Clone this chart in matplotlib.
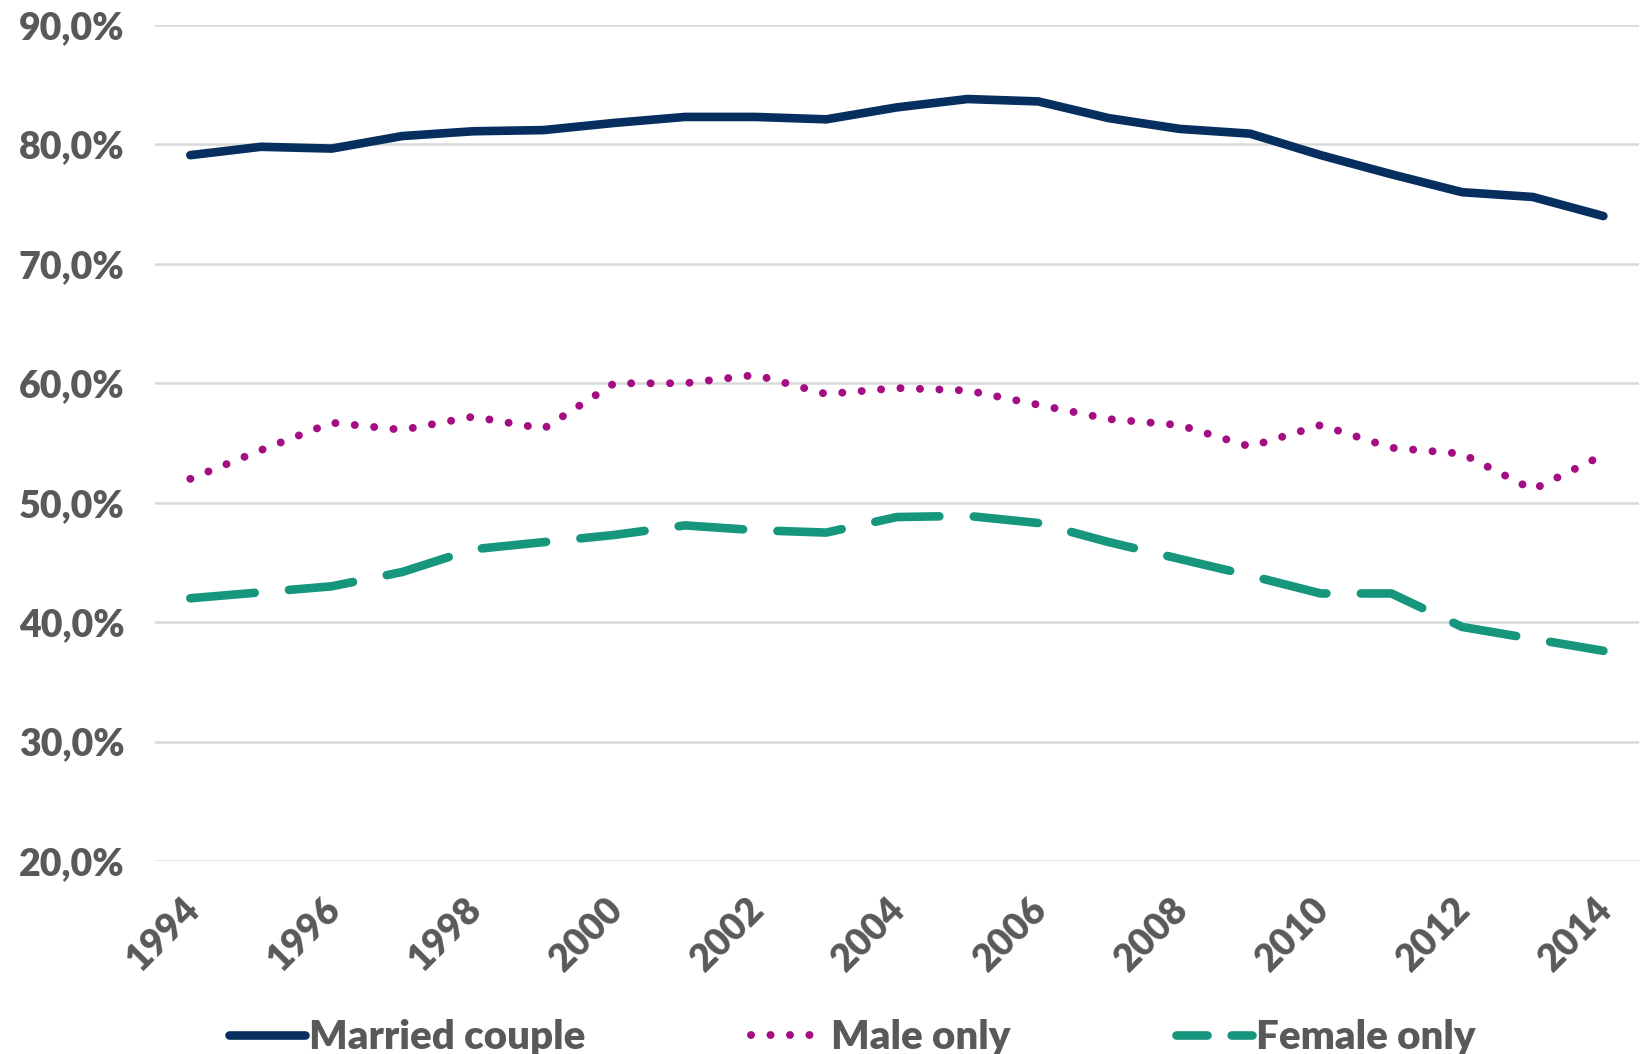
import matplotlib
matplotlib.use("Agg")
import matplotlib.pyplot as plt
import matplotlib.transforms as mtransforms
from matplotlib.ticker import FuncFormatter

years = list(range(1994, 2015))

married = [79.1, 79.8, 79.65, 80.7, 81.1, 81.2, 81.8, 82.3, 82.3, 82.1, 83.1,
           83.8, 83.6, 82.2, 81.3, 80.9, 79.1, 77.5, 76.0, 75.6, 74.0]
male = [52.0, 54.4, 56.7, 56.1, 57.2, 56.2, 60.0, 60.0, 60.7, 59.1, 59.6,
        59.4, 58.2, 57.0, 56.5, 54.7, 56.5, 54.6, 54.1, 51.1, 54.0]
female = [42.0, 42.5, 43.0, 44.2, 46.1, 46.7, 47.3, 48.1, 47.7, 47.5, 48.8,
          48.9, 48.3, 46.7, 45.3, 43.9, 42.4, 42.4, 39.6, 38.6, 37.6]

labels = ["Married couple", "Male only", "Female only"]
colors = ["#062E5F", "#A50E82", "#15967D"]

year_ticks = list(range(1994, 2015, 2))
y_ticks = list(range(20, 100, 10))

plt.rcParams['font.family'] = ['Lato', 'DejaVu Sans']
plt.rcParams['font.weight'] = 'heavy'
text_color = "#595959"

fig = plt.figure(figsize=(16.42, 10.54), dpi=100)
ax = fig.add_axes([0.0944, 0.1831, 0.9036, 0.7932])

ax.plot(years, married, color=colors[0], lw=6.2, solid_capstyle='round',
        solid_joinstyle='round', label=labels[0], zorder=3)
ax.plot(years, male, color=colors[1], lw=5.7, linestyle=(0, (0.01, 2.45)),
        dash_capstyle='round', label=labels[1], zorder=3)
ax.plot(years, female, color=colors[2], lw=6.2, linestyle=(0, (7.5, 4.0)),
        dash_capstyle='round', label=labels[2], zorder=3)

ax.set_xlim(1993.5, 2014.5)
ax.set_ylim(20, 90)
ax.set_yticks(y_ticks)
ax.yaxis.set_major_formatter(FuncFormatter(lambda v, p: f"{v:.1f}%".replace(".", ",")))
ax.set_xticks(year_ticks)
ax.set_xticklabels([str(y) for y in year_ticks], rotation=45, ha='right', va='top')

ax.grid(axis='y', color='#D9D9D9', lw=1.8)
ax.set_axisbelow(True)
for s in ax.spines.values():
    s.set_visible(False)
ax.tick_params(axis='both', length=0, labelcolor=text_color)
ax.tick_params(axis='x', labelsize=27, pad=22)
ax.tick_params(axis='y', labelsize=27, pad=98)
for t in ax.get_yticklabels():
    t.set_horizontalalignment('left')

shift = mtransforms.ScaledTranslation(0.15, 0, fig.dpi_scale_trans)
for t in ax.get_xticklabels():
    t.set_transform(t.get_transform() + shift)

leg = fig.legend(loc='lower center', bbox_to_anchor=(0.519, -0.036), ncol=3, frameon=False,
                 fontsize=29, labelcolor=text_color, handlelength=1.9, handletextpad=0.1,
                 columnspacing=4.1)
# shorter dash in the legend key so it shows dash + dot like the original
leg.get_lines()[2].set_linestyle((0, (3.6, 2.8)))

fig.savefig("out.png", dpi=100)
